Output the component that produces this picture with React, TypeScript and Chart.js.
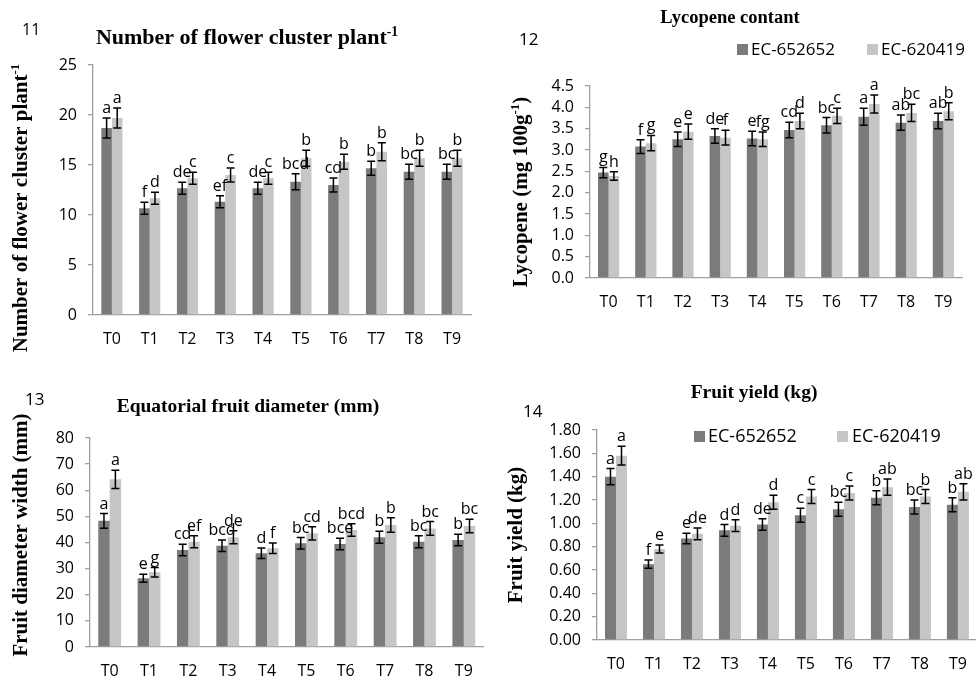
import React, { useEffect, useRef } from "react";
import { Chart, registerables } from "chart.js";

Chart.register(...registerables);

// ---------------- DATA ----------------
const categories = ["T0", "T1", "T2", "T3", "T4", "T5", "T6", "T7", "T8", "T9"];
const seriesNames = ["EC-652652", "EC-620419"];

// 11 – Number of flower cluster plant-1
const flowerDark = [18.7, 10.67, 12.67, 11.33, 12.67, 13.33, 13.0, 14.67, 14.33, 14.33];
const flowerLight = [19.7, 11.67, 13.67, 14.0, 13.67, 15.67, 15.33, 16.33, 15.67, 15.67];
const flowerDarkErr = [1.0, 0.6, 0.6, 0.6, 0.6, 0.8, 0.7, 0.7, 0.75, 0.75];
const flowerLightErr = [1.0, 0.6, 0.6, 0.7, 0.6, 0.8, 0.75, 0.9, 0.8, 0.8];
const flowerDarkLetters = ["a", "f", "de", "ef", "de", "bcd", "cd", "b", "bc", "bc"];
const flowerLightLetters = ["a", "d", "c", "c", "c", "b", "b", "b", "b", "b"];
const flowerTicks = [0, 5, 10, 15, 20, 25];

// 12 – Lycopene contant
const lycoDark = [2.47, 3.08, 3.25, 3.33, 3.27, 3.47, 3.58, 3.78, 3.64, 3.68];
const lycoLight = [2.39, 3.16, 3.43, 3.29, 3.25, 3.68, 3.8, 4.08, 3.87, 3.91];
const lycoDarkErr = [0.12, 0.16, 0.17, 0.17, 0.17, 0.18, 0.18, 0.2, 0.18, 0.18];
const lycoLightErr = [0.1, 0.18, 0.18, 0.17, 0.17, 0.18, 0.18, 0.21, 0.2, 0.2];
const lycoDarkLetters = ["g", "f", "e", "de", "e", "cd", "bc", "a", "ab", "ab"];
const lycoLightLetters = ["h", "g", "e", "f", "fg", "d", "c", "a", "bc", "b"];
const lycoTicks = [0, 0.5, 1.0, 1.5, 2.0, 2.5, 3.0, 3.5, 4.0, 4.5];

// 13 – Equatorial fruit diameter (mm)
const diamDark = [48.3, 26.3, 37.1, 38.8, 35.9, 39.7, 39.4, 42.0, 40.3, 41.0];
const diamLight = [64.2, 28.6, 40.3, 42.0, 37.8, 43.5, 44.8, 46.7, 45.4, 46.3];
const diamDarkErr = [2.8, 1.5, 2.2, 2.2, 2.0, 2.2, 2.2, 2.3, 2.3, 2.2];
const diamLightErr = [3.5, 1.8, 2.3, 2.5, 2.0, 2.5, 2.4, 2.8, 2.6, 2.6];
const diamDarkLetters = ["a", "e", "cd", "bcd", "d", "bc", "bce", "b", "bc", "b"];
const diamLightLetters = ["a", "g", "ef", "de", "f", "cd", "bcd", "b", "bc", "bc"];
const diamTicks = [0, 10, 20, 30, 40, 50, 60, 70, 80];

// 14 – Fruit yield (kg)
const yieldDark = [1.4, 0.65, 0.87, 0.94, 0.99, 1.07, 1.12, 1.22, 1.14, 1.16];
const yieldLight = [1.58, 0.78, 0.91, 0.98, 1.18, 1.23, 1.26, 1.31, 1.23, 1.27];
const yieldDarkErr = [0.07, 0.035, 0.045, 0.05, 0.05, 0.06, 0.06, 0.06, 0.06, 0.06];
const yieldLightErr = [0.08, 0.035, 0.05, 0.05, 0.06, 0.06, 0.06, 0.07, 0.06, 0.07];
const yieldDarkLetters = ["a", "f", "e", "d", "de", "c", "bc", "b", "bc", "b"];
const yieldLightLetters = ["a", "e", "de", "d", "d", "c", "c", "ab", "b", "ab"];
const yieldTicks = [0, 0.2, 0.4, 0.6, 0.8, 1.0, 1.2, 1.4, 1.6, 1.8];

// ---------------- STYLE ----------------
const DARK = "#7b7b7b";
const LIGHT = "#c6c6c6";
const AXIS = "#a0a0a0";
const SANS = "'Open Sans', 'Noto Sans', sans-serif";
const SERIF = "'Liberation Serif', 'DejaVu Serif', serif";

type Seg = { t: string; sup?: boolean };

function drawRich(ctx: CanvasRenderingContext2D, segs: Seg[], x: number, y: number, size: number) {
  const supSize = size * 0.62;
  const widths = segs.map((s) => {
    ctx.font = `bold ${s.sup ? supSize : size}px ${SERIF}`;
    return ctx.measureText(s.t).width;
  });
  const total = widths.reduce((a, b) => a + b, 0);
  let cx = x - total / 2;
  ctx.textAlign = "left";
  ctx.textBaseline = "alphabetic";
  segs.forEach((s, i) => {
    ctx.font = `bold ${s.sup ? supSize : size}px ${SERIF}`;
    ctx.fillText(s.t, cx, s.sup ? y - size * 0.38 : y);
    cx += widths[i];
  });
}

type PanelCfg = {
  canvas: { left: number; top: number; w: number; h: number };
  plot: { l: number; r: number; t: number; b: number };
  num: { text: string; x: number; y: number; size: number };
  title: { segs: Seg[]; x: number; y: number; size: number };
  ytitle: { segs: Seg[]; x: number; y: number; size: number };
  legend?: { y: number; size: number; sq: number; items: { sq: number; tx: number }[] };
  dark: number[];
  light: number[];
  darkErr: number[];
  lightErr: number[];
  darkLetters: string[];
  lightLetters: string[];
  ticks: number[];
  decimals: number;
  catPct: number;
  tickSize: number;
  catSize: number;
};

const Y_W = 60;
const X_H = 33;

function Panel({ cfg }: { cfg: PanelCfg }) {
  const ref = useRef<HTMLCanvasElement | null>(null);
  useEffect(() => {
    const c = cfg.canvas;
    const p = cfg.plot;
    const ox = c.left;
    const oy = c.top;
    const errs = [cfg.darkErr, cfg.lightErr];
    const letters = [cfg.darkLetters, cfg.lightLetters];

    const decor = {
      id: "decor",
      afterDatasetsDraw(chart: any) {
        const ctx: CanvasRenderingContext2D = chart.ctx;
        const ys = chart.scales.y;
        ctx.save();
        [0, 1].forEach((di) => {
          const meta = chart.getDatasetMeta(di);
          const vals = chart.data.datasets[di].data as number[];
          meta.data.forEach((bar: any, i: number) => {
            const v = vals[i];
            const e = errs[di][i];
            const yt = ys.getPixelForValue(v + e);
            const yb = ys.getPixelForValue(v - e);
            ctx.strokeStyle = "#000";
            ctx.lineWidth = 1.5;
            ctx.beginPath();
            ctx.moveTo(bar.x, yt);
            ctx.lineTo(bar.x, yb);
            ctx.moveTo(bar.x - 4, yt);
            ctx.lineTo(bar.x + 4, yt);
            ctx.moveTo(bar.x - 4, yb);
            ctx.lineTo(bar.x + 4, yb);
            ctx.stroke();
            ctx.fillStyle = "#000";
            ctx.font = `16px ${SANS}`;
            ctx.textAlign = "center";
            ctx.textBaseline = "alphabetic";
            ctx.fillText(letters[di][i], bar.x, yt - 5);
          });
        });
        ctx.restore();
      },
      afterDraw(chart: any) {
        const ctx: CanvasRenderingContext2D = chart.ctx;
        ctx.save();
        ctx.fillStyle = "#000";
        ctx.font = `${cfg.num.size}px ${SANS}`;
        ctx.textAlign = "left";
        ctx.textBaseline = "alphabetic";
        ctx.fillText(cfg.num.text, cfg.num.x - ox, cfg.num.y - oy);
        drawRich(ctx, cfg.title.segs, cfg.title.x - ox, cfg.title.y - oy, cfg.title.size);
        ctx.save();
        ctx.translate(cfg.ytitle.x - ox, cfg.ytitle.y - oy);
        ctx.rotate(-Math.PI / 2);
        drawRich(ctx, cfg.ytitle.segs, 0, 0, cfg.ytitle.size);
        ctx.restore();
        if (cfg.legend) {
          const lg = cfg.legend;
          lg.items.forEach((it, i) => {
            ctx.fillStyle = i === 0 ? DARK : LIGHT;
            ctx.fillRect(it.sq - ox, lg.y - lg.sq - oy, lg.sq, lg.sq);
            ctx.fillStyle = "#000";
            ctx.font = `${lg.size}px ${SANS}`;
            ctx.textAlign = "left";
            ctx.textBaseline = "alphabetic";
            ctx.fillText(seriesNames[i], it.tx - ox, lg.y - oy);
          });
        }
        ctx.restore();
      },
    };

    const ticks = cfg.ticks;
    const chart = new Chart(ref.current as HTMLCanvasElement, {
      type: "bar",
      data: {
        labels: categories,
        datasets: [
          { label: seriesNames[0], data: cfg.dark, backgroundColor: DARK, borderWidth: 0 },
          { label: seriesNames[1], data: cfg.light, backgroundColor: LIGHT, borderWidth: 0 },
        ],
      },
      options: {
        responsive: false,
        animation: false,
        devicePixelRatio: 1,
        events: [],
        layout: {
          padding: {
            left: p.l - ox - Y_W,
            right: ox + c.w - p.r,
            top: p.t - oy,
            bottom: oy + c.h - p.b - X_H,
          },
        },
        datasets: { bar: { categoryPercentage: cfg.catPct, barPercentage: 1 } },
        plugins: {
          legend: { display: false },
          tooltip: { enabled: false },
          title: { display: false },
        },
        scales: {
          x: {
            grid: { display: false, drawTicks: false },
            border: { display: true, color: AXIS, width: 1.3 },
            ticks: { color: "#000", font: { family: SANS, size: cfg.catSize }, padding: 15, maxRotation: 0, autoSkip: false },
            afterFit: (s: any) => {
              s.height = X_H;
            },
          },
          y: {
            min: ticks[0],
            max: ticks[ticks.length - 1],
            afterBuildTicks: (s: any) => {
              s.ticks = ticks.map((v) => ({ value: v }));
            },
            grid: { display: true, drawOnChartArea: false, drawTicks: true, tickLength: 5, color: AXIS, lineWidth: 1.3 },
            border: { display: true, color: AXIS, width: 1.3 },
            ticks: {
              color: "#000",
              font: { family: SANS, size: cfg.tickSize },
              padding: 11,
              autoSkip: false,
              callback: (v: any) => Number(v).toFixed(cfg.decimals),
            },
            afterFit: (s: any) => {
              s.width = Y_W;
            },
          },
        },
      },
      plugins: [decor],
    } as any);
    return () => chart.destroy();
  }, [cfg]);

  const c = cfg.canvas;
  return (
    <canvas
      ref={ref}
      width={c.w}
      height={c.h}
      style={{ position: "absolute", left: c.left, top: c.top, width: c.w, height: c.h }}
    />
  );
}

const panels: PanelCfg[] = [
  {
    canvas: { left: 0, top: 0, w: 488, h: 360 },
    plot: { l: 93, r: 471, t: 65, b: 315 },
    num: { text: "11", x: 22, y: 35, size: 16 },
    title: { segs: [{ t: "Number of flower cluster plant" }, { t: "-1", sup: true }], x: 247, y: 44, size: 22 },
    ytitle: { segs: [{ t: "Number of flower cluster plant" }, { t: "-1", sup: true }], x: 27, y: 208, size: 21 },
    dark: flowerDark,
    light: flowerLight,
    darkErr: flowerDarkErr,
    lightErr: flowerLightErr,
    darkLetters: flowerDarkLetters,
    lightLetters: flowerLightLetters,
    ticks: flowerTicks,
    decimals: 0,
    catPct: 0.56,
    tickSize: 16,
    catSize: 16,
  },
  {
    canvas: { left: 488, top: 0, w: 488, h: 360 },
    plot: { l: 590, r: 962, t: 86, b: 278 },
    num: { text: "12", x: 519, y: 45, size: 17 },
    title: { segs: [{ t: "Lycopene contant" }], x: 730, y: 23, size: 18.5 },
    ytitle: { segs: [{ t: "Lycopene (mg 100g" }, { t: "-1", sup: true }, { t: ")" }], x: 527, y: 192, size: 21 },
    legend: { y: 55, size: 17, sq: 11, items: [{ sq: 737, tx: 751 }, { sq: 867, tx: 881 }] },
    dark: lycoDark,
    light: lycoLight,
    darkErr: lycoDarkErr,
    lightErr: lycoLightErr,
    darkLetters: lycoDarkLetters,
    lightLetters: lycoLightLetters,
    ticks: lycoTicks,
    decimals: 1,
    catPct: 0.57,
    tickSize: 16,
    catSize: 16,
  },
  {
    canvas: { left: 0, top: 360, w: 488, h: 320 },
    plot: { l: 90, r: 484, t: 438, b: 647 },
    num: { text: "13", x: 25, y: 405, size: 17 },
    title: { segs: [{ t: "Equatorial fruit diameter (mm)" }], x: 248, y: 412, size: 19.5 },
    ytitle: { segs: [{ t: "Fruit diameter width (mm)" }], x: 27, y: 535, size: 21 },
    dark: diamDark,
    light: diamLight,
    darkErr: diamDarkErr,
    lightErr: diamLightErr,
    darkLetters: diamDarkLetters,
    lightLetters: diamLightLetters,
    ticks: diamTicks,
    decimals: 0,
    catPct: 0.58,
    tickSize: 16,
    catSize: 16,
  },
  {
    canvas: { left: 488, top: 360, w: 494, h: 320 },
    plot: { l: 597, r: 980, t: 430, b: 640 },
    num: { text: "14", x: 523, y: 417, size: 17 },
    title: { segs: [{ t: "Fruit yield (kg)" }], x: 754, y: 398, size: 19.5 },
    ytitle: { segs: [{ t: "Fruit yield (kg)" }], x: 522, y: 535, size: 21 },
    legend: { y: 442, size: 18, sq: 11, items: [{ sq: 694, tx: 708 }, { sq: 837, tx: 852 }] },
    dark: yieldDark,
    light: yieldLight,
    darkErr: yieldDarkErr,
    lightErr: yieldLightErr,
    darkLetters: yieldDarkLetters,
    lightLetters: yieldLightLetters,
    ticks: yieldTicks,
    decimals: 2,
    catPct: 0.58,
    tickSize: 16,
    catSize: 16,
  },
];

export default function App() {
  return (
    <div
      style={{
        position: "absolute",
        left: 0,
        top: 0,
        width: 976,
        height: 680,
        overflow: "hidden",
        background: "#fff",
      }}
    >
      {panels.map((p, i) => (
        <Panel key={i} cfg={p} />
      ))}
    </div>
  );
}
